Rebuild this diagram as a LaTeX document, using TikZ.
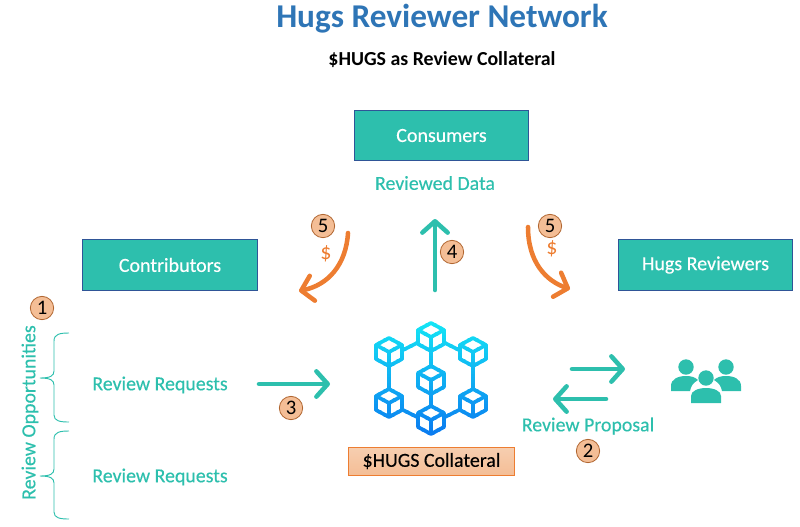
\documentclass[tikz,border=0pt]{standalone}
\usepackage{fontspec}
\setmainfont{Carlito}
\newfontfamily\semifont[FakeBold=0.3]{Carlito}
\usetikzlibrary{arrows.meta,shapes.geometric}
\definecolor{teal}{HTML}{2DBFAD}
\definecolor{navy}{HTML}{2F5597}
\definecolor{orangeA}{HTML}{ED7D31}
\definecolor{badgefill}{HTML}{F4BE96}
\definecolor{badgeline}{HTML}{B0652F}
\definecolor{titleblue}{HTML}{2E75B6}
\definecolor{iconTop}{HTML}{14E6F5}
\definecolor{iconBot}{HTML}{0A78F0}
\tikzset{
  x=0.75pt,y=-0.75pt,
  tealbox/.style={draw=navy,line width=0.7pt,fill=teal,text=white,minimum width=131pt,minimum height=38pt,inner sep=0pt,font=\semifont\fontsize{15}{18}\selectfont},
  badge/.style={circle,draw=badgeline,line width=0.6pt,fill=badgefill,text=black,minimum size=17.5pt,inner sep=0pt,font=\fontsize{15.5}{18}\selectfont},
  teallabel/.style={text=teal,inner sep=0pt,font=\semifont\fontsize{14.9}{18}\selectfont},
  tealarrow/.style={draw=teal,line width=3.4pt,line cap=round,-{Straight Barb[length=8.5pt,width=19pt,line width=3.4pt,round]}},
  orangearrow/.style={draw=orangeA,line width=3.4pt,line cap=round,-{Straight Barb[length=8.5pt,width=19pt,line width=3.4pt,round]}},
  bracepath/.style={draw=teal,line width=0.7pt},
  iconline/.style={line width=2.8pt,line join=round},
}
\newcommand{\cubeicon}[2]{%
  \draw[iconline] (#1,#2-14) -- (#1+13,#2-7) -- (#1+13,#2+7) -- (#1,#2+14) -- (#1-13,#2+7) -- (#1-13,#2-7) -- cycle
     (#1-13,#2-7) -- (#1,#2) -- (#1+13,#2-7) (#1,#2) -- (#1,#2+14);
}
\begin{document}
\begin{tikzpicture}
\useasboundingbox (0,0) rectangle (800,526);
% title
\node[text=titleblue,inner sep=0pt,font=\bfseries\fontsize{24.95}{30}\selectfont] (title) at (442,19) {Hugs Reviewer Network};
\node[text=black,inner sep=0pt,font=\bfseries\fontsize{14.9}{18}\selectfont] (subtitle) at (442,60) {\$HUGS as Review Collateral};
% boxes
\node[tealbox] (consumers) at (441.5,135.5) {\raisebox{-0.8pt}{Consumers}};
\node[tealbox] (contributors) at (170,265) {\raisebox{-0.8pt}{Contributors}};
\node[tealbox] (reviewers) at (705.5,265) {\raisebox{-1.2pt}{Hugs Reviewers}};
% labels
\node[teallabel] (reviewed) at (435,183) {Reviewed Data};
\node[teallabel] (req1) at (160,385) {Review Requests};
\node[teallabel] (req2) at (160,477) {Review Requests};
\node[teallabel] (proposal) at (588,426) {Review Proposal};
\node[teallabel,rotate=90] (opps) at (30,412.5) {Review Opportunities};
\node[text=orangeA,inner sep=0pt,font=\fontsize{16.5}{18}\selectfont] (d1) at (326,254) {\$};
\node[text=orangeA,inner sep=0pt,font=\fontsize{16.5}{18}\selectfont] (d2) at (552,249) {\$};
% collateral
\node[draw=orangeA,line width=0.7pt,top color=badgefill!75!white,bottom color=badgefill,minimum width=124pt,minimum height=21pt,inner sep=0pt,text=black,font=\semifont\fontsize{14.9}{18}\selectfont] (collateral) at (431.5,461) {\raisebox{-0.8pt}{\$HUGS Collateral}};
% free ends
\coordinate (a4s) at (435,290);
\coordinate (a4e) at (435,219);
\coordinate (a3s) at (259,384);
\coordinate (a3e) at (330,384);
\coordinate (a2as) at (572,369);
\coordinate (a2ae) at (625,369);
\coordinate (a2bs) at (606,399);
\coordinate (a2be) at (553,399);
\coordinate (o1s) at (348,233);
\coordinate (o1e) at (299,291);
\coordinate (o2s) at (528,227);
\coordinate (o2e) at (570,289);
% arrows
\draw[tealarrow] (a4s) -- (a4e);
\draw[tealarrow] (a3s) -- (a3e);
\draw[tealarrow] (a2as) -- (a2ae);
\draw[tealarrow] (a2bs) -- (a2be);
\draw[orangearrow] (o1s) .. controls (346,265) and (328,285) .. (o1e);
\draw[orangearrow] (o2s) .. controls (528,262) and (546,281) .. (o2e);
% badges
\node[badge] (b1) at (42,308) {1};
\node[badge] (b2) at (588,451) {2};
\node[badge] (b3) at (291,408) {3};
\node[badge] (b4) at (452,252) {4};
\node[badge] (b5a) at (323,226) {5};
\node[badge] (b5b) at (550,226) {5};
% braces
\draw[bracepath] (69,333) .. controls (60,333) and (54,334) .. (54,341) -- (54,371) .. controls (54,376) and (50,378) .. (40,378) .. controls (50,378) and (54,380) .. (54,385) -- (54,415) .. controls (54,421) and (60,422) .. (69,422);
\draw[bracepath] (69,431) .. controls (60,431) and (54,432) .. (54,439) -- (54,469) .. controls (54,474) and (50,476) .. (40,476) .. controls (50,476) and (54,478) .. (54,483) -- (54,512) .. controls (54,518) and (60,519) .. (69,519);
% blockchain icon, in horizontal bands for its vertical gradient
\foreach \yy [evaluate=\yy as \pct using {100*(\yy-320)/116}] in {320,323,...,437}{
  \begin{scope}
    \clip (360,\yy) rectangle (502,\yy+3.4);
    \colorlet{bandcol}{iconBot!\pct!iconTop}
    \begin{scope}[draw=bandcol]
      \cubeicon{431}{337}\cubeicon{389}{352}\cubeicon{473}{352}\cubeicon{431}{380}\cubeicon{389}{403}\cubeicon{473}{403}\cubeicon{431}{420}
      \draw[iconline] (403,350) -- (417,343) (445,343) -- (459,350) (431,351) -- (431,366)
        (389,366) -- (389,389) (473,366) -- (473,389) (431,394) -- (431,406)
        (403,410) -- (417,417) (445,417) -- (459,410);
    \end{scope}
  \end{scope}
}
% people icon
\fill[teal] (671,391) -- (671,386) .. controls (671,379) and (678,376) .. (686,376) .. controls (691,376) and (695,377) .. (698,380) .. controls (693,383) and (691,386) .. (690,391) -- cycle;
\fill[teal] (741,391) -- (741,386) .. controls (741,379) and (734,376) .. (726,376) .. controls (721,376) and (717,377) .. (714,380) .. controls (719,383) and (721,386) .. (722,391) -- cycle;
\fill[teal] (691,403) -- (691,396) .. controls (691,391) and (698,388) .. (706,388) .. controls (714,388) and (721,391) .. (721,396) -- (721,403) -- cycle;
\fill[teal] (686,367) circle[radius=7.7] (726,367) circle[radius=7.7] (706,378) circle[radius=7.7];
\end{tikzpicture}
\end{document}
